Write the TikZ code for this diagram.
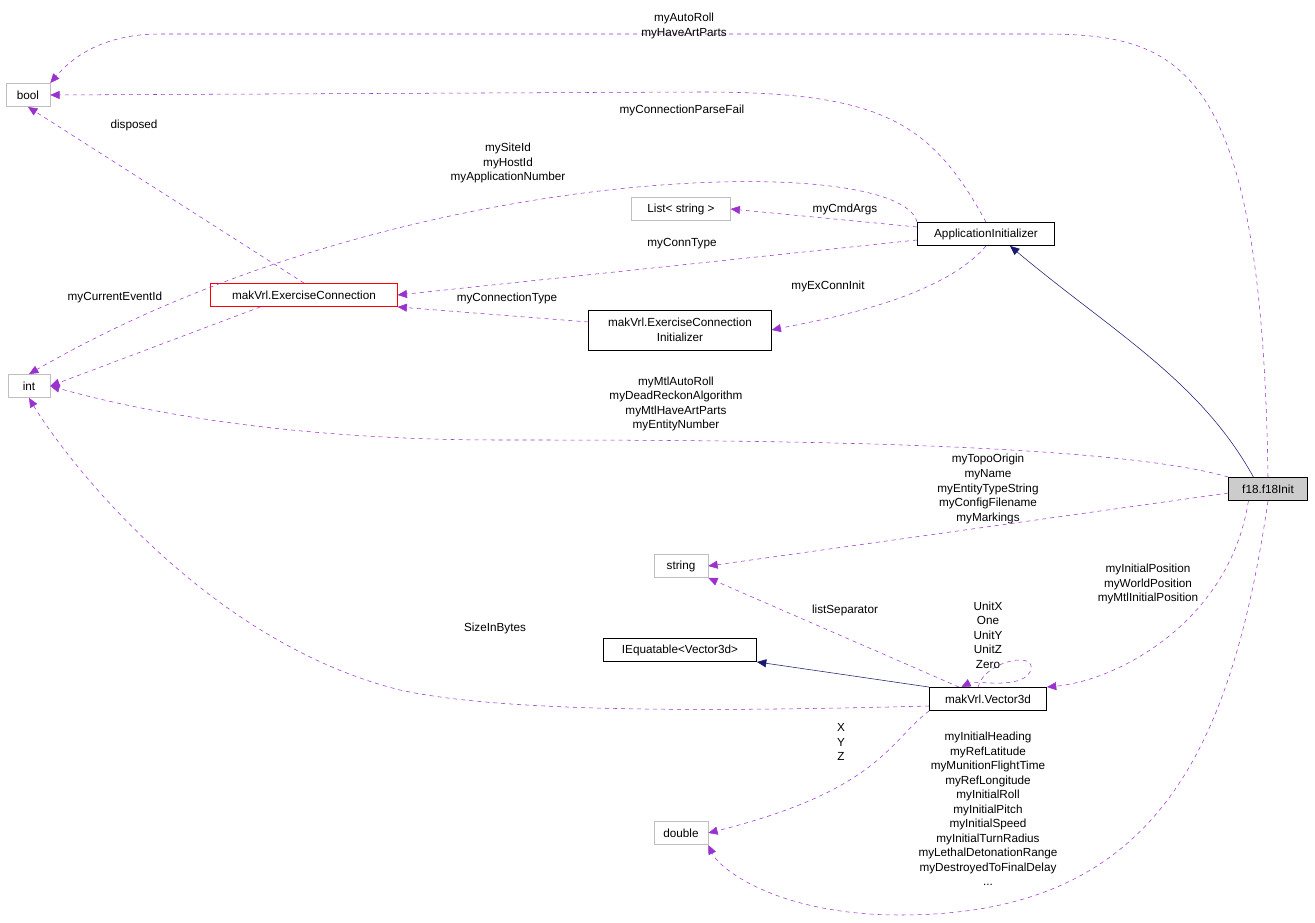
\documentclass[tikz,border=0pt]{standalone}
\usepackage{fontspec}
\setmainfont{Liberation Sans}
\definecolor{dxPurple}{HTML}{9A32CD}
\definecolor{dxNavy}{HTML}{191970}
\definecolor{dxGray}{HTML}{BFBFBF}
\usetikzlibrary{arrows.meta}

\begin{document}
\begin{tikzpicture}[x=0.75pt,y=-0.75pt,
  font=\fontsize{8.8}{10.9}\selectfont,
  cls/.style={draw=black, fill=white, inner xsep=2pt, inner ysep=2pt, minimum height=17.5pt, align=center},
  ext/.style={cls, draw=dxGray},
  dep/.style={dashed, color=dxPurple, -{Triangle[length=7pt,width=6pt]}},
  inh/.style={color=dxNavy, -{Triangle[length=7pt,width=6pt]}},
  lbl/.style={align=center, inner sep=0pt}
]
  \useasboundingbox (0,0) rectangle (1315,923);

  \node[ext, minimum width=33pt] (bool) at (28,95) {bool};
  \node[ext, minimum width=31.5pt] (int) at (29,386) {int};
  \node[ext, minimum width=74pt] (liststr) at (681,209) {List\textless{} string \textgreater};
  \node[cls, minimum width=103pt] (appinit) at (986,234) {ApplicationInitializer};
  \node[cls, draw=red, minimum width=140pt] (exconn) at (304,295) {makVrl.ExerciseConnection};
  \node[cls, minimum height=30pt, minimum width=137pt] (exinit) at (680,330) {makVrl.ExerciseConnection\\Initializer};
  \node[cls, fill=dxGray!80, draw=black, minimum width=59pt] (f18) at (1268,489) {f18.f18Init};
  \node[ext, minimum width=40.5pt] (string) at (681,566) {string};
  \node[cls, minimum width=115pt] (iequ) at (680,650) {IEquatable\textless Vector3d\textgreater};
  \node[cls, minimum width=88pt] (v3d) at (988,699) {makVrl.Vector3d};
  \node[ext, minimum width=40.5pt] (double) at (681,833) {double};

  % inheritance
  \draw[inh] (f18.north west) ++(25,0) .. controls (1200,380) and (1110,330) .. ([xshift=18pt]appinit.south);
  \draw[inh] (v3d.north west) -- (iequ.south east);

  % members
  \draw[dep] (f18.north) .. controls (1262,60) and (1180,34) .. (1040,34)
    -- (160,34) .. controls (100,34) and (70,60) .. (bool.north east);
  \draw[dep] (appinit.north) .. controls (930,120) and (880,92) .. (700,92) -- (bool.east);
  \draw[dep] (exconn.north) -- (bool.south);
  \draw[dep] (appinit.north west) .. controls (900,150) and (400,160) .. (int.north);
  \draw[dep] (appinit.west |- liststr.east) ++(0,18) -- (liststr.east);
  \draw[dep] (appinit.west) ++(0,6) -- (exconn.east);
  \draw[dep] (appinit.south) .. controls (940,300) and (820,320) .. (exinit.east);
  \draw[dep] (exinit.west) ++(0,-8) -- (exconn.south east);
  \draw[dep] (exconn.south west) ++(50,0) -- (int.east);
  \draw[dep] (f18.north west) .. controls (1100,440) and (700,440) .. (500,440)
    .. controls (250,440) and (100,400) .. (int.east);
  \draw[dep] (f18.west) ++(0,4) -- (string.east);
  \draw[dep] (f18.south west) ++(20,0) .. controls (1230,620) and (1120,680) .. (v3d.north east);
  \draw[dep] (f18.south) .. controls (1230,760) and (1150,915) .. (900,915)
    .. controls (780,915) and (720,870) .. (double.south east);
  \draw[dep] (v3d.north west) ++(30,0) -- (string.south east);
  \draw[dep] (v3d.north) ++(-10,0) .. controls (985,660) and (1040,650) .. (1030,672)
    .. controls (1020,690) and (975,680) .. ([xshift=-20pt]v3d.north);
  \draw[dep] (v3d.west) ++(0,7) .. controls (700,712) and (500,712) .. (400,690)
    .. controls (200,640) and (60,450) .. (int.south);
  \draw[dep] (v3d.south west) .. controls (890,740) and (880,790) .. (double.east);

  % Edge labels
  \node[lbl] (l1) at (684,26) {myAutoRoll\\myHaveArtParts};
  \node[lbl] (l2) at (682,110) {myConnectionParseFail};
  \node[lbl] (l3) at (134,125) {disposed};
  \node[lbl] (l4) at (508,163) {mySiteId\\myHostId\\myApplicationNumber};
  \node[lbl] (l5) at (845,209) {myCmdArgs};
  \node[lbl] (l6) at (682,244) {myConnType};
  \node[lbl] (l7) at (828,286) {myExConnInit};
  \node[lbl] (l8) at (507,298) {myConnectionType};
  \node[lbl] (l9) at (115,297) {myCurrentEventId};
  \node[lbl] (l10) at (676,404) {myMtlAutoRoll\\myDeadReckonAlgorithm\\myMtlHaveArtParts\\myEntityNumber};
  \node[lbl] (l11) at (988,489) {myTopoOrigin\\myName\\myEntityTypeString\\myConfigFilename\\myMarkings};
  \node[lbl] (l12) at (1148,584) {myInitialPosition\\myWorldPosition\\myMtlInitialPosition};
  \node[lbl] (l13) at (845,610) {listSeparator};
  \node[lbl] (l14) at (988,635) {UnitX\\One\\UnitY\\UnitZ\\Zero};
  \node[lbl] (l15) at (495,628) {SizeInBytes};
  \node[lbl] (l16) at (841,742) {X\\Y\\Z};
  \node[lbl] (l17) at (988,809) {myInitialHeading\\myRefLatitude\\myMunitionFlightTime\\myRefLongitude\\myInitialRoll\\myInitialPitch\\myInitialSpeed\\myInitialTurnRadius\\myLethalDetonationRange\\myDestroyedToFinalDelay\\...};
\end{tikzpicture}
\end{document}
